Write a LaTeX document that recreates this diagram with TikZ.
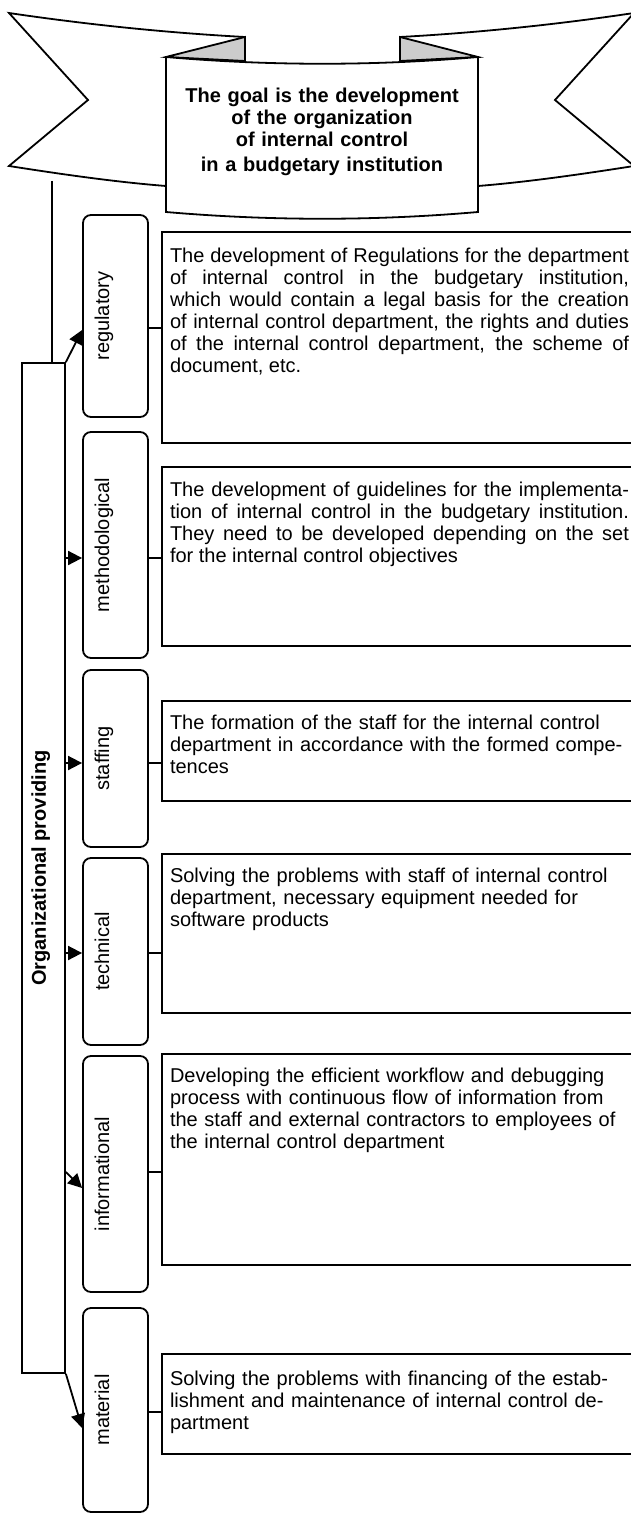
\documentclass[tikz,border=0pt]{standalone}
\usepackage{fontspec}
\setmainfont{Liberation Sans}
\usetikzlibrary{arrows.meta}

\begin{document}
\begin{tikzpicture}[x=0.5pt,y=-0.5pt,line width=0.9pt,
  c/.style={rectangle,draw,rounded corners=4pt,minimum width=32.5pt,inner sep=0pt},
  d/.style={rectangle,draw,minimum width=239pt,inner sep=0pt},
  t/.style={anchor=base west,inner sep=0pt,text width=229.5pt,font={\fontsize{10}{11}\selectfont\tolerance=10000}},
  v/.style={rotate=90,anchor=base,inner sep=0pt,font=\fontsize{10}{11}\selectfont},
  a/.style={-{Triangle[length=7pt,width=7pt]}}]
  \useasboundingbox (0,0) rectangle (631,1514);
  \clip (0,0) rectangle (631,1514);

  \draw[fill=white] (9,13) .. controls (90,25) and (170,33) .. (245,37) -- (245,100) -- (166,186) .. controls (115,182) and (60,174) .. (9,166) -- (88,100) -- cycle;
  \draw[fill=white] (400,37) .. controls (474,33) and (554,25) .. (634,13) -- (555,100) -- (634,166) .. controls (583,174) and (528,182) .. (478,186) -- (400,100) -- cycle;
  \draw[fill=black!20] (245,37) -- (166,57) -- (245,61) -- cycle;
  \draw[fill=black!20] (400,37) -- (478,57) -- (400,61) -- cycle;
  \draw[fill=white] (166,57) .. controls (270,66) and (375,66) .. (478,57) -- (478,212) .. controls (375,221) and (270,221) .. (166,212) -- cycle;
  \node[align=center,text width=150pt,inner sep=0pt,anchor=base,font=\fontsize{10}{11}\selectfont\bfseries] (g) at (322,103) {The goal is the development\\ of the organization\\ of internal control\\[1.5pt] in a budgetary institution};

  \node[draw,minimum width=21.5pt,minimum height=505pt,inner sep=0pt] (o) at (43.5,868) {};
  \node[v,font=\fontsize{10}{11}\selectfont\bfseries] (ot) at ([xshift=1.25pt]o.center) {Organizational providing};
  \coordinate (top) at (52,181);

  \node[c,minimum height=101pt] (r) at (115.5,316) {};
  \node[c,minimum height=113pt] (m) at (115.5,545) {};
  \node[c,minimum height=88.5pt] (s) at (115.5,758.5) {};
  \node[c,minimum height=93.5pt] (te) at (115.5,951.5) {};
  \node[c,minimum height=118pt] (i) at (115.5,1174) {};
  \node[c,minimum height=102pt] (ma) at (115.5,1410) {};
  \node[v] (rt) at ([xshift=-3.25pt]r.center) {regulatory};
  \node[v] (mt) at ([xshift=-3.25pt]m.center) {methodological};
  \node[v] (st) at ([xshift=-3.25pt]s.center) {staffing};
  \node[v] (tet) at ([xshift=-3.25pt]te.center) {technical};
  \node[v] (it) at ([xshift=-3.25pt]i.center) {informational};
  \node[v] (mat) at ([xshift=-3.25pt]ma.center) {material};

  \node[d,minimum height=105.5pt] (d1) at (401,337.5) {};
  \node[d,minimum height=89.5pt] (d2) at (401,556.5) {};
  \node[d,minimum height=50pt] (d3) at (401,751) {};
  \node[d,minimum height=79.5pt] (d4) at (401,933.5) {};
  \node[d,minimum height=105.5pt] (d5) at (401,1159.5) {};
  \node[d,minimum height=50pt] (d6) at (401,1404) {};

  \node[t,align=justify] (t1) at ([xshift=4pt,yshift=-15.5pt]d1.north west) {The development of Regulations for the department\linebreak of internal control in the budgetary institution,\linebreak which would contain a legal basis for the creation\linebreak of internal control department, the rights and duties\linebreak of the internal control department, the scheme of\linebreak document, etc.};
  \node[t,align=justify] (t2) at ([xshift=4pt,yshift=-15pt]d2.north west) {The development of guidelines for the implementa-\linebreak tion of internal control in the budgetary institution.\linebreak They need to be developed depending on the set\linebreak for the internal control objectives};
  \node[t,align=left] (t3) at ([xshift=4pt,yshift=-14.5pt]d3.north west) {The formation of the staff for the internal control\\ department in accordance with the formed compe-\\ tences};
  \node[t,align=left] (t4) at ([xshift=4pt,yshift=-14.5pt]d4.north west) {Solving the problems with staff of internal control\\ department, necessary equipment needed for\\ software products};
  \node[t,align=left] (t5) at ([xshift=4pt,yshift=-14.5pt]d5.north west) {Developing the efficient workflow and debugging\\ process with continuous flow of information from\\ the staff and external contractors to employees of\\ the internal control department};
  \node[t,align=left] (t6) at ([xshift=4pt,yshift=-16pt]d6.north west) {Solving the problems with financing of the estab-\\ lishment and maintenance of internal control de-\\ partment};

  \draw (top) -- (top |- o.north);
  \draw[a] (o.north east) -- (r.west |- 0,330);
  \draw[a] (o.east |- 0,558) -- (m.west |- 0,558);
  \draw[a] (o.east |- 0,763) -- (s.west |- 0,763);
  \draw[a] (o.east |- 0,953) -- (te.west |- 0,953);
  \draw[a] (o.east |- 0,1172) -- (i.west |- 0,1188);
  \draw[a] (o.south east) -- (ma.west |- 0,1428);

  \draw (r.east |- 0,328) -- (d1.west |- 0,328);
  \draw (m.east |- 0,558) -- (d2.west |- 0,558);
  \draw (s.east |- 0,763) -- (d3.west |- 0,763);
  \draw (te.east |- 0,953) -- (d4.west |- 0,953);
  \draw (i.east |- 0,1172) -- (d5.west |- 0,1172);
  \draw (ma.east |- 0,1412) -- (d6.west |- 0,1412);
\end{tikzpicture}
\end{document}
